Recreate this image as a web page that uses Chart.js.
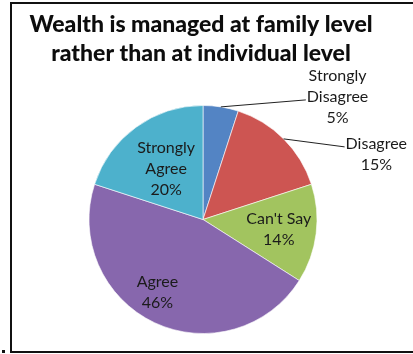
<!DOCTYPE html>
<html>
<head>
<meta charset="utf-8">
<script src="https://cdn.jsdelivr.net/npm/chart.js@4"></script>
<style>
  html, body { margin: 0; padding: 0; background: #fff; }
  canvas { display: block; }
</style>
</head>
<body>
<canvas id="c" width="413" height="354"></canvas>
<script>
// Survey responses, clockwise from 12 o'clock
const categories = ['Strongly Disagree', 'Disagree', "Can't Say", 'Agree', 'Strongly Agree'];
const labelLines = [['Strongly', 'Disagree'], ['Disagree'], ["Can't Say"], ['Agree'], ['Strongly', 'Agree']];
const shares = [5, 15, 14, 46, 20];
const sliceColors = ['#5384C4', '#CD5552', '#A2C45F', '#8767AD', '#4DB1CC'];
const titleLines = ['Wealth is managed at family level', 'rather than at individual level'];

// Label layout: inside labels sit at a fraction of the radius (with a small angular nudge);
// outside labels hang off a leader line drawn from the slice's outer edge.
const labelLayout = [
  { outside: true, dx: 85, dy: -7 },
  { outside: true, dx: 61, dy: 8 },
  { r: 0.67, nudge: 0 },
  { r: 0.75, nudge: 7 },
  { r: 0.55, nudge: 0 }
];

const LABEL_FONT = '16px Lato, "Open Sans", sans-serif';
const LINE_H = 21;
const TEXT_COLOR = '#1b1b1b';

const framePlugin = {
  id: 'frame',
  beforeDraw(chart) {
    const ctx = chart.ctx;
    ctx.save();
    ctx.fillStyle = '#fff';
    ctx.fillRect(0, 0, chart.width, chart.height);
    ctx.strokeStyle = '#111';
    ctx.lineWidth = 2;
    ctx.beginPath();
    ctx.moveTo(chart.width + 2, 3);
    ctx.lineTo(11, 3);
    ctx.lineTo(11, 352);
    ctx.lineTo(chart.width + 2, 352);
    ctx.stroke();
    ctx.fillStyle = '#111';
    ctx.fillRect(2, 350, 3, 3);
    ctx.restore();
  }
};

const textPlugin = {
  id: 'pieText',
  afterDatasetsDraw(chart) {
    const ctx = chart.ctx;
    ctx.save();
    // title
    ctx.fillStyle = '#0d0d0d';
    ctx.textAlign = 'center';
    ctx.textBaseline = 'alphabetic';
    ctx.font = '900 23px Lato, "Open Sans", sans-serif';
    titleLines.forEach((t, i) => ctx.fillText(t, 201, 32 + i * 29));

    // slice labels
    ctx.font = LABEL_FONT;
    ctx.textBaseline = 'middle';
    const meta = chart.getDatasetMeta(0);
    meta.data.forEach((arc, i) => {
      const p = arc.getProps(['x', 'y', 'startAngle', 'endAngle', 'outerRadius'], true);
      const lines = labelLines[i].concat([shares[i] + '%']);
      const mid = (p.startAngle + p.endAngle) / 2;
      const L = labelLayout[i];
      if (L.outside) {
        const ex = p.x + Math.cos(mid) * p.outerRadius;
        const ey = p.y + Math.sin(mid) * p.outerRadius;
        const ax = ex + L.dx, ay = ey + L.dy;
        ctx.strokeStyle = '#222';
        ctx.lineWidth = 1;
        ctx.beginPath();
        ctx.moveTo(ex, ey);
        ctx.lineTo(ax, ay);
        ctx.stroke();
        const w = Math.max(...lines.map(s => ctx.measureText(s).width));
        const cx = ax + 1 + w / 2;
        // the leader line meets the next-to-last text line
        const anchorIdx = lines.length - 2;
        const top = ay - 3 - anchorIdx * LINE_H;
        ctx.fillStyle = TEXT_COLOR;
        ctx.textAlign = 'center';
        lines.forEach((s, k) => ctx.fillText(s, cx, top + k * LINE_H));
      } else {
        const a = mid + L.nudge * Math.PI / 180;
        const cx = p.x + Math.cos(a) * p.outerRadius * L.r;
        const cy = p.y + Math.sin(a) * p.outerRadius * L.r;
        const top = cy - (lines.length - 1) * LINE_H / 2;
        ctx.fillStyle = TEXT_COLOR;
        ctx.textAlign = 'center';
        lines.forEach((s, k) => ctx.fillText(s, cx, top + k * LINE_H));
      }
    });
    ctx.restore();
  }
};

new Chart(document.getElementById('c'), {
  type: 'pie',
  data: {
    labels: categories,
    datasets: [{
      data: shares,
      backgroundColor: sliceColors,
      borderColor: 'rgba(255,255,255,0.6)',
      borderWidth: 1
    }]
  },
  options: {
    responsive: false,
    animation: false,
    devicePixelRatio: 1,
    layout: { padding: { top: 105, bottom: 20, left: 0, right: 7 } },
    plugins: {
      legend: { display: false },
      title: { display: false },
      tooltip: { enabled: false }
    }
  },
  plugins: [framePlugin, textPlugin]
});
</script>
</body>
</html>
